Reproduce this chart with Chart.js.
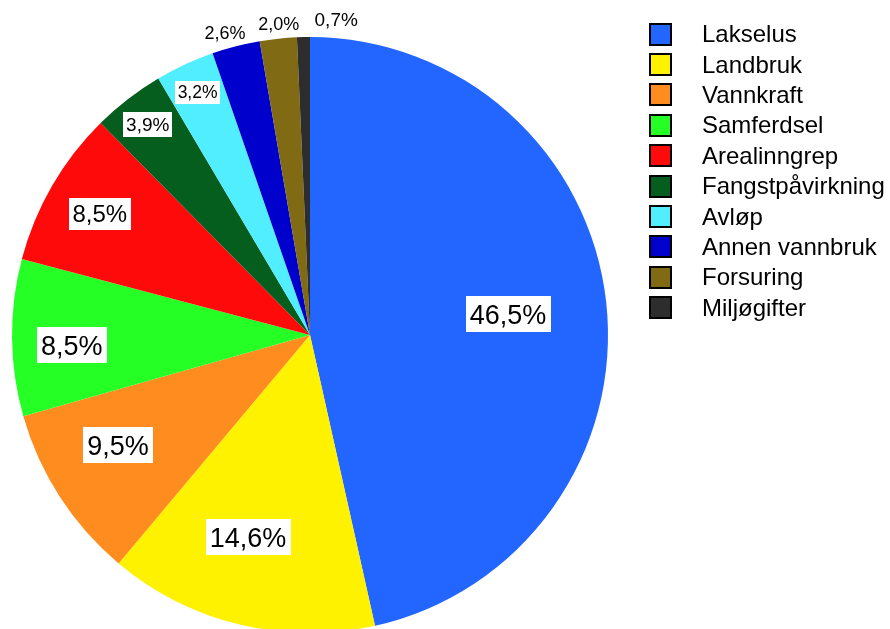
<!DOCTYPE html>
<html lang="no">
<head>
    <meta charset="UTF-8">
    <title>Påvirkninger</title>
    <script src="https://cdn.jsdelivr.net/npm/chart.js"></script>
    <style>
        body { margin: 0; background: #fff; overflow: hidden; }
        #wrap { width: 890px; height: 640px; }
    </style>
</head>
<body>
<div id="wrap">
    <canvas id="chartCanvas" width="890" height="640"></canvas>
</div>
<script>
    // data
    let kategorier = ["Lakselus", "Landbruk", "Vannkraft", "Samferdsel", "Arealinngrep",
        "Fangstpåvirkning", "Avløp", "Annen vannbruk", "Forsuring", "Miljøgifter"];
    let andeler = [46.5, 14.6, 9.5, 8.5, 8.5, 3.9, 3.2, 2.6, 2.0, 0.7];
    let farger = ["#2266FF", "#FFF200", "#FF8C1E", "#26FF26", "#FF0A0A",
        "#065E1E", "#50EEFF", "#0000CC", "#806A14", "#2D2D2D"];

    // label styling (radius fraction, small angle tweak in degrees, font size, white box)
    let etikettRadius = [0.668, 0.709, 0.743, 0.80, 0.815, 0.892, 0.898, 1.053, 1.052, 1.064];
    let etikettVri = [0.25, 3.4, 3.1, -1.9, 0, 0, 0, -1.3, 0.4, 6.0];
    let etikettFont = [27, 27, 27, 27, 24, 19, 17.5, 18, 18, 19];
    let etikettBoks = [true, true, true, true, true, true, true, false, false, false];

    const FONT = "'Liberation Sans', Arial, sans-serif";

    function formater(v) {
        return v.toFixed(1).replace(".", ",") + "%";
    }

    const etiketter = {
        id: "etiketter",
        afterDatasetsDraw(chart) {
            let ctx = chart.ctx;
            let arcs = chart.getDatasetMeta(0).data;
            ctx.save();
            arcs.forEach(function (arc, i) {
                let mid = (arc.startAngle + arc.endAngle) / 2 + etikettVri[i] * Math.PI / 180;
                let r = arc.outerRadius * etikettRadius[i];
                let x = arc.x + Math.cos(mid) * r;
                let y = arc.y + Math.sin(mid) * r;
                let tekst = formater(andeler[i]);
                let fs = etikettFont[i];
                ctx.font = fs + "px " + FONT;
                let w = ctx.measureText(tekst).width;
                if (etikettBoks[i]) {
                    let pad = fs * 0.15;
                    let h = fs * 1.32;
                    ctx.fillStyle = "#fff";
                    ctx.fillRect(Math.round(x - w / 2 - pad), Math.round(y - h / 2), Math.round(w + pad * 2), Math.round(h));
                }
                ctx.fillStyle = "#000";
                ctx.textAlign = "center";
                ctx.textBaseline = "alphabetic";
                ctx.fillText(tekst, x, y + fs * 0.716 / 2);
            });
            ctx.restore();
        }
    };

    const forklaring = {
        id: "forklaring",
        afterDraw(chart) {
            let ctx = chart.ctx;
            ctx.save();
            ctx.font = "24px " + FONT;
            ctx.textAlign = "left";
            ctx.textBaseline = "alphabetic";
            for (let i = 0; i < kategorier.length; i++) {
                let cy = 33.5 + i * 30.4;
                ctx.fillStyle = farger[i];
                ctx.fillRect(650, Math.round(cy - 10), 21, 21);
                ctx.strokeStyle = "#000";
                ctx.lineWidth = 2;
                ctx.strokeRect(650, Math.round(cy - 10), 21, 21);
                ctx.fillStyle = "#000";
                ctx.fillText(kategorier[i], 702, cy + 8.6);
            }
            ctx.restore();
        }
    };

    let ctx = document.getElementById("chartCanvas").getContext("2d");
    let chart = new Chart(ctx, {
        type: "pie",
        data: {
            labels: kategorier,
            datasets: [{
                data: andeler,
                backgroundColor: farger,
                borderWidth: 0
            }]
        },
        options: {
            responsive: false,
            animation: false,
            devicePixelRatio: 1,
            layout: { padding: { left: 12, right: 282, top: 37, bottom: 7 } },
            plugins: {
                legend: { display: false },
                tooltip: { enabled: false }
            }
        },
        plugins: [etiketter, forklaring]
    });
</script>
</body>
</html>
